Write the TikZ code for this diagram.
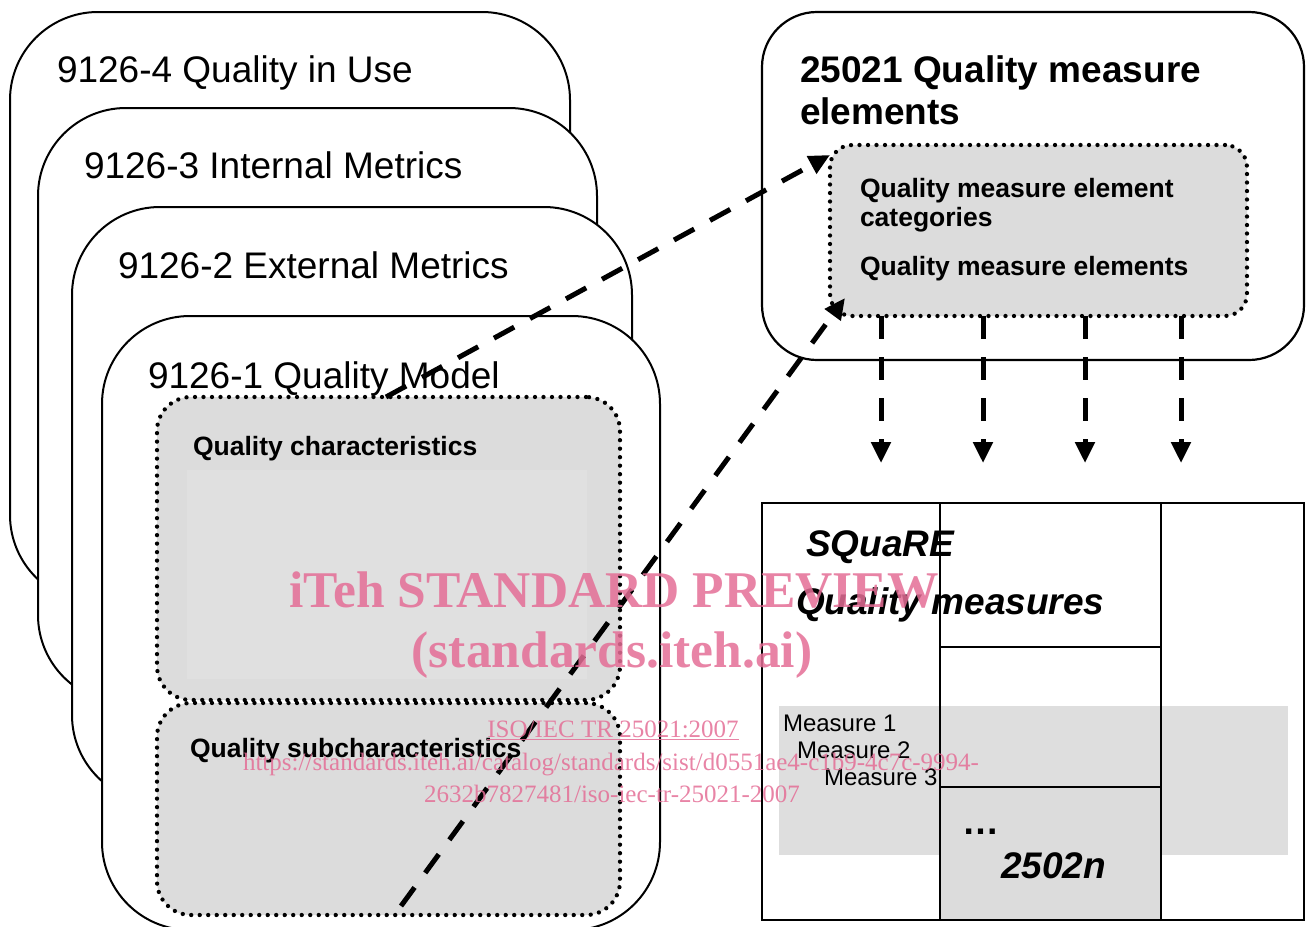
\documentclass[tikz,border=0pt]{standalone}
\usepackage{fontspec}
\setmainfont{Liberation Sans}
\newfontfamily\wmserif{Liberation Serif}
\usetikzlibrary{arrows.meta}
\definecolor{boxgrey}{HTML}{DCDCDC}
\definecolor{innergrey}{HTML}{E0E0E0}
\definecolor{measgrey}{HTML}{DEDEDE}
\definecolor{wmpink}{HTML}{E46E96}
\newcommand\fbig{\fontsize{37}{42}\selectfont}
\newcommand\fbigb{\fontsize{37}{42}\selectfont\bfseries}
\newcommand\fbigbi{\fontsize{37}{42}\selectfont\bfseries\itshape}
\newcommand\fmidb{\fontsize{26.5}{30}\selectfont\bfseries}
\newcommand\fsml{\fontsize{24}{27}\selectfont}
\newcommand\fwmbig{\wmserif\fontsize{51.5}{56}\selectfont\bfseries}
\newcommand\fwmsml{\wmserif\fontsize{25}{28}\selectfont}
\begin{document}
\begin{tikzpicture}[x=1pt,y=-1pt,
  every node/.style={inner sep=0pt, outer sep=0pt},
  stdbox/.style={draw=black, line width=2pt, fill=white, rounded corners=88pt, anchor=north west, rectangle},
  dotbox/.style={draw=black, line width=4.3pt, dash pattern=on 0pt off 8.5pt, line cap=round, fill=boxgrey, rounded corners=34pt, anchor=north west, rectangle},
  plainrect/.style={anchor=north west, rectangle},
  dasharrow/.style={line width=5pt, dash pattern=on 23pt off 18pt, -{Triangle[length=21pt,width=19pt]}},
  txt/.style={anchor=base west},
  wm/.style={anchor=base, text=wmpink, text opacity=0.85}]
\useasboundingbox (0,0) rectangle (1311,926);

% stacked ISO 9126 boxes
\node[stdbox, minimum width=560pt, minimum height=591pt] (b4) at (10,12) {};
\node[txt, font=\fbig] (t4) at (57,82) {9126-4 Quality in Use};
\node[stdbox, minimum width=559pt, minimum height=595pt] (b3) at (38,108) {};
\node[txt, font=\fbig] (t3) at (84,178) {9126-3 Internal Metrics};
\node[stdbox, minimum width=560pt, minimum height=596pt] (b2) at (72,207) {};
\node[txt, font=\fbig] (t2) at (118,278) {9126-2 External Metrics};
\node[stdbox, minimum width=558pt, minimum height=614pt] (b1) at (102,316) {};
\node[txt, font=\fbig] (t1) at (148,388) {9126-1 Quality Model};

% quality characteristics boxes
\node[dotbox, minimum width=463pt, minimum height=303pt] (qc) at (157,397) {};
\node[plainrect, fill=innergrey, minimum width=400pt, minimum height=209pt] (qcin) at (187,470) {};
\node[txt, font=\fmidb] (qct) at (193,455) {Quality characteristics};
\node[dotbox, minimum width=463pt, minimum height=212pt] (sub) at (157,703) {};
\node[txt, font=\fmidb] (subt) at (190,757) {Quality subcharacteristics};

% 25021 box
\node[plainrect, draw=black, line width=2.2pt, fill=white, rounded corners=55pt, minimum width=542pt, minimum height=348pt] (qmebox) at (762,12) {};
\node[txt, font=\fbigb] (qmet1) at (800,82) {25021 Quality measure};
\node[txt, font=\fbigb] (qmet2) at (800,124) {elements};
\node[dotbox, rounded corners=22pt, minimum width=417pt, minimum height=171pt] (qme) at (830,145) {};
\node[txt, font=\fmidb] (qmea) at (860,197) {Quality measure element};
\node[txt, font=\fmidb] (qmeb) at (860,226) {categories};
\node[txt, font=\fmidb] (qmec) at (860,275) {Quality measure elements};

% SQuaRE quality measures block
\node[plainrect, draw=black, line width=1.6pt, fill=white, minimum width=542pt, minimum height=417pt] (sq) at (762,503) {};
\node[plainrect, fill=measgrey, minimum width=509pt, minimum height=149pt] (mg) at (779,706) {};
\node[plainrect, draw=black, line width=2pt, minimum width=221pt, minimum height=144pt] (cA) at (940,503) {};
\node[plainrect, draw=black, line width=2pt, minimum width=221pt, minimum height=140pt] (cB) at (940,647) {};
\node[plainrect, draw=black, line width=2pt, fill=boxgrey, minimum width=221pt, minimum height=133pt] (cC) at (940,787) {};
\node[txt, font=\fbigbi] (sqt1) at (806,556) {SQuaRE};
\node[txt, font=\fbigbi] (sqt2) at (796,614) {Quality measures};
\node[txt, font=\fsml] (m1) at (783,731) {Measure 1};
\node[txt, font=\fsml] (m2) at (797,758) {Measure 2};
\node[txt, font=\fsml] (m3) at (824,785) {Measure 3};
\node[txt, font=\fbigb] (dots) at (962,834) {…};
\node[txt, font=\fbigbi] (n) at (1001,878) {2502n};

% connectors
\coordinate (s1) at (386,397);
\coordinate (e1) at (830,155);
\coordinate (s2) at (401,906);
\coordinate (e2) at (845,298);
\draw[dasharrow] (s1) -- (e1);
\draw[dasharrow] (s2) -- (e2);
\foreach \i/\xx in {1/881,2/983,3/1085,4/1181}{
  \coordinate (v\i s) at (\xx,316);
  \coordinate (v\i e) at (\xx,463);
  \draw[dasharrow] (v\i s) -- (v\i e);
}

% watermark
\node[wm, font=\fwmbig] (wm1) at (614,607) {iTeh STANDARD PREVIEW};
\node[wm, font=\fwmbig] (wm2) at (612,667) {(standards.iteh.ai)};
\node[wm, font=\fwmsml] (wm3) at (613,737) {\underline{ISO/IEC TR 25021:2007}};
\node[wm, font=\fwmsml] (wm4) at (611,770) {https://standards.iteh.ai/catalog/standards/sist/d0551ae4-c1b9-4c7c-9994-};
\node[wm, font=\fwmsml] (wm5) at (612,802) {2632b7827481/iso-iec-tr-25021-2007};
\end{tikzpicture}
\end{document}
